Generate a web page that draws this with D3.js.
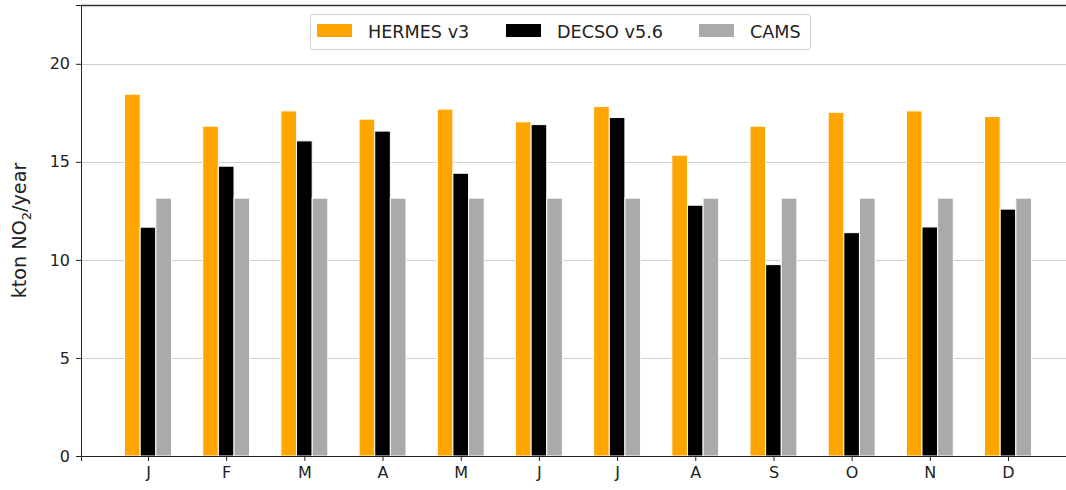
<!DOCTYPE html>
<html>
<head>
<meta charset="utf-8">
<title></title>
<script src="https://d3js.org/d3.v7.min.js"></script>
<style>
body { margin: 0; background: #fff; font-family: "DejaVu Sans"; }
.axis text { font-family: "DejaVu Sans"; font-size: 16px; fill: #222; }
.axis path, .axis line { stroke: #222; }
.grid line { stroke: #d0d0d0; stroke-width: 1; shape-rendering: crispEdges; }
.grid .domain { stroke: none; }
.legend_label { font-family: "DejaVu Sans"; font-size: 17.6px; fill: #222; }
.axis-label { font-family: "DejaVu Sans"; font-size: 19.2px; fill: #222; }
</style>
</head>
<body>
<div class="content"></div>
<script type="text/javascript">
var months = ["J", "F", "M", "A", "M", "J", "J", "A", "S", "O", "N", "D"];
var hermes = [18.45, 16.82, 17.60, 17.18, 17.69, 17.04, 17.82, 15.34, 16.82, 17.53, 17.60, 17.31];
var decso  = [11.67, 14.78, 16.07, 16.57, 14.42, 16.90, 17.26, 12.79, 9.76, 11.39, 11.68, 12.59];
var cams   = [13.15, 13.15, 13.15, 13.15, 13.15, 13.15, 13.15, 13.15, 13.15, 13.15, 13.15, 13.15];
var seriesNames = ["HERMES v3", "DECSO v5.6", "CAMS"];
var colors = ["#FFA500", "#000000", "#AAAAAA"];
var yTicks = [0, 5, 10, 15, 20];

var margin = { top: 5, left: 81 };
var width = 994, height = 451;

var svg = d3.select(".content").append("svg")
	.attr("width", 1066).attr("height", 490);

var x = d3.scaleLinear().domain([-0.857, 11.857]).range([0, width]),
	y = d3.scaleLinear().domain([0, 23]).range([height, 0]);

var g = svg.append("g")
	.attr("transform", "translate(" + margin.left + "," + margin.top + ")");

// grid
g.append("g")
	.attr("class", "grid")
	.call(d3.axisLeft(y).tickValues(yTicks).tickSize(-width).tickFormat(""));

// bars
var series = [hermes, decso, cams];
var bw = x(0.2) - x(0);
series.forEach(function (vals, s) {
	g.selectAll(".bar" + s)
		.data(vals)
	  .enter().append("rect")
		.attr("class", "bar" + s)
		.attr("x", function (d, i) { return x(i + (s - 1) * 0.2) - bw / 2; })
		.attr("y", function (d) { return y(d); })
		.attr("width", bw)
		.attr("height", function (d) { return y(0) - y(d); })
		.style("fill", colors[s])
		.style("stroke", "#fff")
		.style("stroke-width", 1);
});

// axes
g.append("g")
	.attr("class", "axis axis--x")
	.attr("transform", "translate(0," + height + ")")
	.call(d3.axisBottom(x).tickValues(d3.range(months.length))
		.tickFormat(function (d) { return months[d]; }).tickSizeOuter(0).tickSize(5).tickPadding(6));

g.append("g")
	.attr("class", "axis axis--y")
	.call(d3.axisLeft(y).tickValues(yTicks).tickSizeOuter(0).tickSize(5).tickPadding(6));

// top spine
g.append("line")
	.attr("x1", 0).attr("x2", width).attr("y1", 0.5).attr("y2", 0.5)
	.style("stroke", "#333").style("stroke-width", 1.5);

// y label
var yl = svg.append("text")
	.attr("class", "axis-label")
	.attr("transform", "translate(26,230.5) rotate(-90)")
	.attr("text-anchor", "middle");
yl.append("tspan").text("kton NO");
yl.append("tspan").attr("dy", 5).style("font-size", "13px").text("2");
yl.append("tspan").attr("dy", -5).text("/year");

// legend
var lg = svg.append("g").attr("transform", "translate(310,14)");
lg.append("rect")
	.attr("x", 0.5).attr("y", 0.5).attr("width", 500).attr("height", 35)
	.attr("rx", 3)
	.style("fill", "#fff").style("stroke", "#d0d0d0");
var lx = [7, 196, 389];
seriesNames.forEach(function (name, s) {
	lg.append("rect")
		.attr("x", lx[s]).attr("y", 10).attr("width", 35).attr("height", 13)
		.style("fill", colors[s]);
	lg.append("text")
		.attr("class", "legend_label")
		.attr("x", lx[s] + 51).attr("y", 23.5)
		.text(name);
});
</script>
</body>
</html>
